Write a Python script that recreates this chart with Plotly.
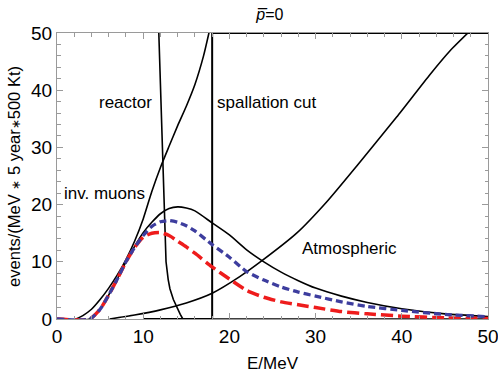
import plotly.graph_objects as go

FONT = "Liberation Sans, Arial, sans-serif"
FRAME = "#9a9a9a"

# signal spectra (events per MeV)
sig_e = [0, 3.8, 5, 6, 7, 8, 9, 10, 11, 12, 13, 14, 15, 16, 18, 20, 22, 24,
         26, 28, 30, 33, 36, 40, 45, 50]
sig_total = [0, 0, 1.7, 4.2, 7.0, 10.0, 12.7, 15.1, 16.9, 18.4, 19.3, 19.6,
             19.4, 18.9, 16.8, 14.7, 12.1, 10.0, 8.2, 6.7, 5.4, 4.0, 2.9,
             1.8, 0.9, 0.45]
sig_blue = [0, 0, 1.7, 4.2, 7.0, 10.0, 12.5, 14.6, 16.2, 17.0, 17.2, 16.9,
            16.3, 15.4, 13.0, 10.8, 8.3, 6.8, 5.6, 4.7, 4.0, 3.0, 2.2, 1.5,
            0.8, 0.4]
sig_red = [0, 0, 1.7, 4.2, 7.0, 10.0, 12.5, 14.3, 15.0, 15.1, 14.6, 13.6,
           12.6, 11.5, 9.1, 7.0, 5.0, 3.8, 3.0, 2.5, 2.0, 1.3, 0.9, 0.5,
           0.2, 0.1]

# backgrounds
muon_e = [2.2, 3, 4, 5, 6, 7, 8, 9, 10, 11, 12, 13, 14, 15, 16, 17, 17.7]
muon_y = [0, 0.6, 1.7, 3.4, 5.4, 7.7, 10.4, 13.6, 17.5, 22.3, 26.5, 30.2,
          33.8, 37.2, 41.0, 46.0, 50.5]

reac_e = [11.8, 12.1, 12.35, 12.45, 12.65, 12.9, 13.1, 13.5, 13.9, 14.3,
          14.6, 50]
reac_y = [50.5, 35, 24, 18, 10, 6.9, 5.3, 3.4, 2.0, 0.8, 0, 0]

atm_e = [6.1, 9, 12, 15, 18, 21.2, 23.7, 27.8, 31.3, 34.8, 39.4, 43.3, 45.6,
         48.0]
atm_y = [0, 0.7, 1.6, 2.8, 4.5, 7.4, 10.1, 15.0, 20.5, 26.8, 35.3, 42.8,
         46.9, 50.5]

spall_e = [10, 18, 18, 50]
spall_y = [0, 0, 50, 50]

labels = ["reactor", "spallation cut", "inv. muons", "Atmospheric"]
label_x = [7.95, 24.4, 5.5, 33.9]
label_y = [37.8, 37.9, 21.9, 12.4]

fig = go.Figure()

black = dict(color="black", width=1.6)
fig.add_trace(go.Scatter(x=spall_e, y=spall_y, mode="lines",
                         line=dict(color="black", width=2)))
fig.add_trace(go.Scatter(x=reac_e, y=reac_y, mode="lines", line=black))
fig.add_trace(go.Scatter(x=muon_e, y=muon_y, mode="lines",
                         line=dict(black, shape="spline", smoothing=0.6)))
fig.add_trace(go.Scatter(x=atm_e, y=atm_y, mode="lines",
                         line=dict(black, shape="spline", smoothing=0.6)))
fig.add_trace(go.Scatter(x=sig_e, y=sig_total, mode="lines",
                         line=dict(black, shape="spline", smoothing=0.6)))
fig.add_trace(go.Scatter(x=sig_e, y=sig_red, mode="lines",
                         line=dict(color="#ee1c1c", width=3.5, dash="12px,5px",
                                   shape="spline", smoothing=0.6)))
fig.add_trace(go.Scatter(x=sig_e, y=sig_blue, mode="lines",
                         line=dict(color="#3d3d9e", width=3.3, dash="7px,4px",
                                   shape="spline", smoothing=0.6)))

for text, x, y in zip(labels, label_x, label_y):
    fig.add_annotation(x=x, y=y, text=text, showarrow=False,
                       font=dict(size=17, color="black", family=FONT))

# axis titles as paper annotations so they sit exactly where the original has them
star = "<span style='font-size:12px'>\u2217</span>"
fig.add_annotation(xref="paper", yref="paper", x=0.5, y=-0.156,
                   text="E/MeV", showarrow=False, yanchor="middle",
                   font=dict(size=17, color="black", family=FONT))
fig.add_annotation(xref="paper", yref="paper", x=-0.1, y=0.5,
                   text=f"events/(MeV {star} 5 year{star}500 Kt)", textangle=-90,
                   showarrow=False, xanchor="center", yanchor="middle",
                   font=dict(size=16.5, color="black", family=FONT))

axis = dict(
    range=[0, 50], dtick=10, ticks="inside", ticklen=6, tickcolor=FRAME,
    showline=True, linecolor=FRAME, linewidth=1, mirror="allticks",
    showgrid=False, zeroline=False, automargin=False,
    ticklabeloverflow="allow",
    tickfont=dict(size=19, color="black", family=FONT),
    minor=dict(dtick=2, ticks="inside", ticklen=3.5, tickcolor=FRAME),
)

fig.update_layout(
    width=498, height=376,
    margin=dict(l=57, r=10, t=33, b=57),
    paper_bgcolor="white", plot_bgcolor="white",
    showlegend=False,
    title=dict(text="<i>p\u0305</i>=0", x=0.542, xanchor="center", y=0.963,
               yanchor="middle", font=dict(size=16, color="black", family=FONT)),
    xaxis=axis,
    yaxis=axis,
)

# drop the browser's default 8px body margin so the figure sits at the page corner
fig.write_html("out.html", config={"displayModeBar": False},
               post_script="document.body.style.margin='0';")
